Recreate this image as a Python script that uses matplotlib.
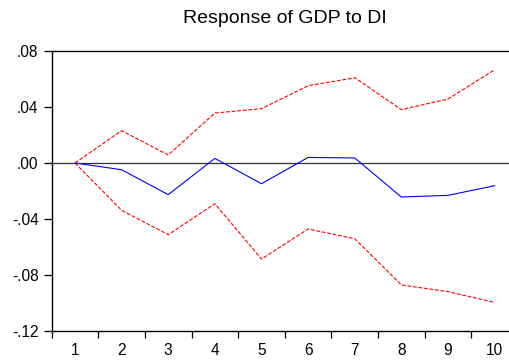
import matplotlib
matplotlib.use("Agg")
import matplotlib.pyplot as plt

# impulse response periods and values
periods = [1, 2, 3, 4, 5, 6, 7, 8, 9, 10]
response = [0.0, -0.0048, -0.0226, 0.0033, -0.0148, 0.0040, 0.0036, -0.0243, -0.0231, -0.0162]
upper_band = [0.0, 0.0231, 0.0057, 0.0357, 0.0388, 0.0552, 0.0609, 0.0381, 0.0457, 0.0666]
lower_band = [0.0, -0.0338, -0.0512, -0.0291, -0.0686, -0.0471, -0.0541, -0.0871, -0.0919, -0.0996]
y_ticks = [0.08, 0.04, 0.0, -0.04, -0.08, -0.12]
y_labels = [".08", ".04", ".00", "-.04", "-.08", "-.12"]

plt.rcParams['font.family'] = ['Liberation Sans', 'DejaVu Sans']

fig = plt.figure(figsize=(5.09, 3.61), dpi=100)
ax = fig.add_axes([0.1015, 0.0831, 0.9161, 0.7756])

ax.axhline(0, color="#333333", lw=0.9, zorder=1)
ax.plot(periods, response, color="#0000ff", lw=0.8, zorder=3)
ax.plot(periods, upper_band, color="#ff0000", lw=0.8, linestyle=(0, (3.5, 1.5)), zorder=2)
ax.plot(periods, lower_band, color="#ff0000", lw=0.8, linestyle=(0, (3.5, 1.5)), zorder=2)

ax.set_xlim(0.5, 10.5)
ax.set_ylim(-0.12, 0.08)

# x ticks sit between periods, labels centred on periods
ax.set_xticks([p + 0.5 for p in periods[:-1]] + [0.5, 10.5])
ax.set_xticklabels([])
ax.set_xticks(periods, minor=True)
ax.set_xticklabels([str(p) for p in periods], minor=True)
ax.tick_params(axis="x", which="minor", length=0, labelsize=11.2, pad=8.5)
ax.tick_params(axis="x", which="major", direction="out", length=5, width=0.9, color="black")

ax.set_yticks(y_ticks)
ax.set_yticklabels(y_labels)
ax.tick_params(axis="y", direction="out", length=5.8, width=0.9, labelsize=11.2, pad=3.6)

for side in ["left", "bottom", "top", "right"]:
    ax.spines[side].set_linewidth(1.0)
    ax.spines[side].set_color("black")

ax.set_title("Response of GDP to DI", fontsize=14, pad=20.5)

fig.savefig("out.png", dpi=100)
